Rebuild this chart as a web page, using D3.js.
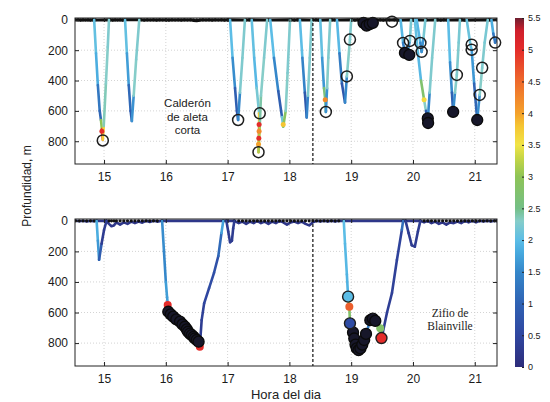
<!DOCTYPE html>
<html>
<head>
<meta charset="utf-8">
<script src="https://cdn.jsdelivr.net/npm/d3@7"></script>
<style>
body { margin: 0; background: #fff; }
text { font-family: "Liberation Sans", Arial, sans-serif; }
.axis path { display: none; }
.axis line { stroke: #222; }
.axis text { font-size: 12px; fill: #1a1a1a; }
.cbar text { font-size: 9px; }
.grid { stroke: #c8c8c8; stroke-width: 0.8; stroke-dasharray: 1,2; }
</style>
</head>
<body>
<script>
var hourTicks = [15, 16, 17, 18, 19, 20, 21];
var depthTicks = [0, 200, 400, 600, 800];
var speedTicks = [0, 0.5, 1, 1.5, 2, 2.5, 3, 3.5, 4, 4.5, 5, 5.5];
var speedStops = [0, 0.5, 1, 1.5, 1.8, 2, 2.3, 2.5, 3, 3.3, 3.5, 3.8, 4, 4.5, 5, 5.3, 5.5];
var speedColors = ["#2d2c7a", "#2f46a0", "#2f62b3", "#3587ca", "#47a9de", "#5cbde6", "#86cdc9",
                   "#74bf86", "#8ec456", "#c7d645", "#f1e446", "#f5c532", "#f4a12b", "#ee6a2c",
                   "#e42c2a", "#cf1f2c", "#6e1f30"];
var sunsetHour = 18.38;

// Calderón de aleta corta: dives as [hour, depth m, speed]
var calderonDives = [
  [[14.84,0,2.1],[14.87,220,2.0],[14.9,430,1.7],[14.93,600,0.9],[14.95,660,1.2],[14.965,720,4.8],[14.98,790,5.0],[14.995,700,2.4],[15.03,420,2.3],[15.06,180,2.3],[15.08,0,2.2]],
  [[15.34,0,2.1],[15.37,220,2.0],[15.4,430,1.4],[15.43,600,0.8],[15.45,667,0.9],[15.48,500,2.3],[15.52,260,2.3],[15.57,0,2.2]],
  [[17.04,0,2.1],[17.08,250,1.9],[17.12,450,1.2],[17.15,600,0.7],[17.17,660,0.8],[17.2,480,2.2],[17.24,250,2.3],[17.28,0,2.2]],
  [[17.39,0,2.1],[17.43,250,2.0],[17.47,450,1.9],[17.51,616,2.5],[17.51,700,5.0],[17.505,780,4.2],[17.5,872,3.8],[17.52,700,2.5],[17.54,500,2.3],[17.59,250,2.3],[17.64,0,2.2]],
  [[17.69,0,2.1],[17.75,250,1.9],[17.82,470,1.1],[17.88,640,0.8],[17.9,704,3.5],[17.94,600,2.3],[17.97,350,2.3],[18.01,0,2.2]],
  [[18.17,0,2.1],[18.21,250,1.9],[18.25,480,1.0],[18.28,643,0.7],[18.3,500,2.2],[18.33,250,2.3],[18.36,0,2.2]],
  [[18.5,0,2.1],[18.53,250,2.0],[18.56,450,1.3],[18.58,527,4.0],[18.59,607,0.9],[18.61,450,2.3],[18.63,250,2.3],[18.66,0,2.2]],
  [[18.77,0,2.1],[18.81,220,1.8],[18.85,420,0.9],[18.9,545,0.7],[18.93,373,2.3],[18.98,130,2.3],[19.0,0,2.2]],
  [[19.15,0,0.5],[19.2,20,0.3],[19.25,40,0.3],[19.3,30,0.3],[19.35,20,0.4],[19.4,0,0.5]],
  [[19.8,0,2.1],[19.84,152,1.8],[19.87,218,1.0],[19.9,231,1.0],[19.95,140,2.2],[19.97,0,2.2]],
  [[20.06,0,2.1],[20.12,152,1.8],[20.14,211,1.0],[20.17,120,2.2],[20.2,0,2.2]],
  [[20.03,0,2.1],[20.08,220,2.0],[20.13,400,1.9],[20.18,527,3.6],[20.21,600,1.0],[20.24,660,0.8],[20.27,480,2.2],[20.31,250,2.3],[20.36,0,2.2]],
  [[20.57,0,2.1],[20.6,280,1.9],[20.63,480,1.2],[20.65,607,0.8],[20.68,480,2.3],[20.71,363,2.3],[20.74,150,2.2],[20.76,0,2.2]],
  [[20.87,0,2.1],[20.93,164,2.1],[20.95,197,2.0],[20.99,420,1.3],[21.04,660,0.8],[21.08,495,2.3],[21.12,316,2.3],[21.16,150,2.2],[21.21,0,2.2]],
  [[21.27,0,2.1],[21.3,90,1.6],[21.33,150,1.0],[21.36,120,1.5]]
];
var calderonSurface = [
  [14.54,2],[14.58,0],[14.62,3],[14.66,0],[14.7,2],[14.74,0],[14.78,3],[14.82,0],[14.86,2],
  [15.1,0],[15.14,3],[15.18,0],[15.22,2],[15.26,0],[15.3,3],[15.34,0],
  [15.6,0],[15.65,3],[15.7,0],[15.75,2],[15.8,0],[15.85,3],[15.9,0],[15.95,2],[16.0,0],
  [16.05,3],[16.1,0],[16.15,2],[16.2,0],[16.25,3],[16.3,0],[16.35,2],[16.4,0],[16.45,4],
  [16.5,6],[16.55,3],[16.6,0],[16.65,2],[16.7,0],[16.75,3],[16.8,0],[16.85,2],[16.9,0],
  [16.95,3],[17.0,0],[17.3,2],[17.35,0],[17.66,2],[18.03,0],[18.08,3],[18.13,0],
  [18.38,2],[18.43,0],[18.47,3],[18.69,0],[18.73,2],[19.02,0],[19.06,3],[19.1,0],
  [19.42,2],[19.47,0],[19.52,3],[19.57,0],[19.62,2],[19.7,0],[19.75,3],[19.99,0],
  [20.22,2],[20.4,0],[20.45,3],[20.5,0],[20.54,2],[20.79,0],[20.83,3],[21.23,0],[21.26,2],[21.36,0]
];
var calderonMarks = [
  [14.965,735,5.0],[17.51,690,5.0],[17.51,735,4.2],[17.505,780,5.0],[17.5,820,4.0],
  [17.9,690,3.8],[18.58,527,4.2],[20.18,527,3.6]
];
var calderonBuzzOpen = [
  [14.98,795],[17.17,660],[17.52,616],[17.5,872],[18.59,607],[18.93,373],[18.98,130],
  [19.66,12],[19.84,152],[19.95,139],[20.12,152],[20.14,211],[20.71,363],[20.95,164],
  [20.95,197],[21.12,316],[21.08,495],[21.33,150]
];
var calderonBuzzFilled = [
  [19.2,20],[19.25,38],[19.3,28],[19.35,20],[19.87,218],[19.94,231],[20.24,650],
  [20.245,680],[20.65,607],[21.04,660]
];
var calderonBuzzColored = [];

// Zifio de Blainville
var zifioDives = [
  [[14.88,0,1.9],[14.9,130,1.8],[14.92,255,1.5],[14.96,150,0.3],[15.0,60,0.3],[15.04,0,0.3]],
  [[15.94,0,1.6],[15.97,200,1.5],[16.0,400,1.5],[16.02,500,1.9],[16.04,580,1.5],[16.1,620,0.3],[16.2,680,0.3],[16.3,730,0.3],[16.4,770,0.3],[16.5,800,0.3],[16.55,824,0.3],[16.58,650,0.3],[16.62,540,0.5],[16.7,440,0.5],[16.78,340,0.7],[16.85,230,0.7],[16.9,80,1.5],[16.93,0,2.0]],
  [[16.98,0,0.3],[17.01,70,0.3],[17.04,140,0.3],[17.07,130,0.3],[17.09,50,0.3],[17.11,0,0.3]],
  [[18.88,0,2.0],[18.9,150,2.0],[18.93,350,1.9],[18.95,496,1.9],[18.97,562,4.8],[18.98,671,0.8],[19.02,740,0.3],[19.06,810,0.3],[19.1,845,0.3],[19.15,830,0.3],[19.2,790,0.4],[19.25,730,1.5],[19.3,660,1.2],[19.37,640,0.5],[19.44,670,0.5],[19.47,703,2.8],[19.49,767,4.5],[19.51,734,0.3],[19.58,600,0.3],[19.66,472,0.4],[19.74,256,0.4],[19.82,59,0.5],[19.84,0,1.8]],
  [[19.88,0,0.3],[19.93,80,0.3],[19.98,160,0.3],[20.03,169,0.3],[20.08,70,0.3],[20.12,0,0.3]]
];
var zifioSurface = [
  [14.54,0],[14.6,3],[14.66,0],[14.72,4],[14.78,0],[14.84,2],[14.88,0],
  [15.04,0],[15.08,20],[15.12,35],[15.16,30],[15.2,10],[15.26,25],[15.32,10],[15.38,20],
  [15.44,5],[15.5,15],[15.56,5],[15.62,12],[15.68,0],[15.74,8],[15.8,0],[15.86,5],[15.94,0],
  [16.93,0],[16.98,0],[17.11,0],[17.18,15],[17.24,5],[17.3,20],[17.36,5],[17.42,15],
  [17.48,0],[17.54,15],[17.6,5],[17.66,20],[17.72,5],[17.78,15],[17.84,0],[17.9,10],
  [17.96,25],[18.02,10],[18.08,5],[18.14,15],[18.2,5],[18.26,20],[18.32,30],[18.38,10],
  [18.44,0],[18.5,5],[18.56,0],[18.62,5],[18.68,0],[18.74,5],[18.8,0],[18.88,0],
  [19.84,0],[19.88,0],[20.12,0],[20.18,10],[20.24,0],[20.3,15],[20.36,5],[20.42,20],
  [20.48,10],[20.54,25],[20.6,10],[20.66,15],[20.72,5],[20.78,15],[20.84,0],[20.9,10],
  [20.96,0],[21.02,10],[21.08,0],[21.14,5],[21.2,0],[21.26,5],[21.32,0],[21.36,0]
];
var zifioMarks = [[16.03,551,5.0],[16.55,824,5.0],[18.97,562,4.6],[19.47,703,2.8]];
var zifioBuzzOpen = [];
var zifioBuzzFilled = [
  [16.04,595],[16.08,612],[16.12,627],[16.17,645],[16.23,660],[16.27,678],[16.31,693],
  [16.34,710],[16.36,726],[16.39,738],[16.42,748],[16.45,760],[16.47,770],[16.5,780],[16.53,791],
  [19.03,730],[19.05,770],[19.07,810],[19.09,835],[19.12,846],[19.15,835],[19.18,810],
  [19.21,780],[19.24,740],[19.31,650],[19.35,640],[19.39,655]
];
var zifioBuzzColored = [[18.95,496,2.0],[18.98,671,0.6],[19.49,767,5.0]];

var svg = d3.select("body").append("svg")
    .attr("width", 550)
    .attr("height", 402);
var defs = svg.append("defs");

var x = d3.scaleLinear().domain([14.53, 21.36]).range([75, 497]);
var speedColor = d3.scaleLinear().domain(speedStops).range(speedColors);

function drawPanel(p) {
  var y = d3.scaleLinear().domain([-12, 950]).range([p.top, p.bottom]);
  var g = svg.append("g");
  var px = function(d) { return x(d[0]); },
      py = function(d) { return y(d[1]); };

  defs.append("clipPath").attr("id", "clip-" + p.name)
    .append("rect")
      .attr("x", 75).attr("y", p.top)
      .attr("width", 422).attr("height", p.bottom - p.top);

  // grid
  g.selectAll(".hgrid").data(depthTicks.slice(1))
    .enter().append("line").attr("class", "grid")
      .attr("x1", 75).attr("x2", 497)
      .attr("y1", y).attr("y2", y);
  g.selectAll(".vgrid").data(hourTicks)
    .enter().append("line").attr("class", "grid")
      .attr("x1", x).attr("x2", x)
      .attr("y1", p.top).attr("y2", p.bottom);

  var plot = g.append("g").attr("clip-path", "url(#clip-" + p.name + ")");

  // surface intervals
  plot.append("path")
      .datum(p.surface)
      .attr("d", d3.line().x(px).y(py))
      .attr("fill", "none")
      .attr("stroke", p.surfaceColor)
      .attr("stroke-width", p.surfaceWidth)
      .attr("stroke-linejoin", "round");
  plot.selectAll(".sdot").data(p.surface)
    .enter().append("circle")
      .attr("cx", px).attr("cy", function(d) { return y(0); })
      .attr("r", 1.6)
      .attr("fill", "#111");

  // dive tracks coloured by speed
  p.dives.forEach(function(dive) {
    plot.selectAll(null).data(d3.pairs(dive))
      .enter().append("line")
        .attr("x1", function(d) { return x(d[0][0]); })
        .attr("y1", function(d) { return y(d[0][1]); })
        .attr("x2", function(d) { return x(d[1][0]); })
        .attr("y2", function(d) { return y(d[1][1]); })
        .attr("stroke", function(d) { return speedColor((d[0][2] + d[1][2]) / 2); })
        .attr("stroke-width", 2.6)
        .attr("stroke-linecap", "round");
  });

  plot.selectAll(".mark").data(p.marks)
    .enter().append("circle")
      .attr("cx", px).attr("cy", py)
      .attr("r", p.markR)
      .attr("fill", function(d) { return speedColor(d[2]); });

  // sunset
  g.append("line")
      .attr("x1", x(sunsetHour)).attr("x2", x(sunsetHour))
      .attr("y1", p.top).attr("y2", p.bottom)
      .attr("stroke", "#111")
      .attr("stroke-width", 1.2)
      .attr("stroke-dasharray", "3,2");

  // buzzes
  g.selectAll(".bopen").data(p.buzzOpen)
    .enter().append("circle")
      .attr("cx", px).attr("cy", py).attr("r", 5.5)
      .attr("fill", "none").attr("stroke", "#1e1e1e").attr("stroke-width", 1.5);
  g.selectAll(".bfill").data(p.buzzFilled)
    .enter().append("circle")
      .attr("cx", px).attr("cy", py).attr("r", 5.5)
      .attr("fill", "#17172a").attr("stroke", "#0a0a0a").attr("stroke-width", 1.3);
  g.selectAll(".bcol").data(p.buzzColored)
    .enter().append("circle")
      .attr("cx", px).attr("cy", py).attr("r", 5.5)
      .attr("fill", function(d) { return speedColor(d[2]); })
      .attr("stroke", "#1e1e1e").attr("stroke-width", 1.4);

  // frame and axes
  g.append("rect")
      .attr("x", 75).attr("y", p.top)
      .attr("width", 422).attr("height", p.bottom - p.top)
      .attr("fill", "none").attr("stroke", "#222").attr("stroke-width", 1);

  g.append("g").attr("class", "axis")
      .attr("transform", "translate(75,0)")
      .call(d3.axisLeft(y).tickValues(depthTicks).tickSize(-4).tickPadding(7));
  g.append("g").attr("class", "axis")
      .attr("transform", "translate(497,0)")
      .call(d3.axisRight(y).tickValues(depthTicks).tickSize(-4).tickFormat(""));
  g.append("g").attr("class", "axis")
      .attr("transform", "translate(0," + p.bottom + ")")
      .call(d3.axisBottom(x).tickValues(hourTicks).tickSize(-4).tickPadding(8).tickFormat(d3.format("d")));
  g.append("g").attr("class", "axis")
      .attr("transform", "translate(0," + p.top + ")")
      .call(d3.axisTop(x).tickValues(hourTicks).tickSize(-4).tickFormat(""));

  var label = g.append("text")
      .attr("text-anchor", "middle")
      .style("font-family", p.labelFont)
      .style("font-size", p.labelSize)
      .attr("fill", "#222");
  p.label.forEach(function(s, i) {
    label.append("tspan")
        .attr("x", x(p.labelAt[0]))
        .attr("y", y(p.labelAt[1]) + i * p.labelStep)
        .attr("dy", ".35em")
        .text(s);
  });
}

drawPanel({
  name: "calderon", top: 18, bottom: 164,
  dives: calderonDives, surface: calderonSurface, marks: calderonMarks,
  buzzOpen: calderonBuzzOpen, buzzFilled: calderonBuzzFilled, buzzColored: calderonBuzzColored,
  surfaceColor: "#111", surfaceWidth: 3, markR: 2.5,
  label: ["Calderón", "de aleta", "corta"], labelAt: [16.35, 550], labelStep: 13.5,
  labelFont: "Liberation Sans, Arial, sans-serif", labelSize: "11.5px"
});

drawPanel({
  name: "zifio", top: 219, bottom: 366,
  dives: zifioDives, surface: zifioSurface, marks: zifioMarks,
  buzzOpen: zifioBuzzOpen, buzzFilled: zifioBuzzFilled, buzzColored: zifioBuzzColored,
  surfaceColor: speedColor(0.2), surfaceWidth: 2.6, markR: 4,
  label: ["Zifio de", "Blainville"], labelAt: [20.6, 600], labelStep: 13.5,
  labelFont: "Liberation Serif, Times New Roman, serif", labelSize: "11.5px"
});

// colour bar
var c = d3.scaleLinear().domain([0, 5.5]).range([367, 18]);
var grad = defs.append("linearGradient")
    .attr("id", "cbar")
    .attr("x1", 0).attr("y1", 1).attr("x2", 0).attr("y2", 0);
grad.selectAll("stop").data(speedStops)
  .enter().append("stop")
    .attr("offset", function(d) { return d / 5.5; })
    .attr("stop-color", function(d, i) { return speedColors[i]; });

svg.append("rect")
    .attr("x", 515).attr("y", c(5.5))
    .attr("width", 9).attr("height", c(0) - c(5.5))
    .attr("fill", "url(#cbar)");

svg.append("g").attr("class", "axis cbar")
    .attr("transform", "translate(524,0)")
    .call(d3.axisRight(c).tickValues(speedTicks).tickSize(-2).tickPadding(4).tickFormat(d3.format("~g")));

// axis titles
svg.append("text")
    .attr("transform", "translate(27,186) rotate(-90)")
    .attr("text-anchor", "middle")
    .attr("dy", ".35em")
    .style("font-size", "12px")
    .attr("fill", "#222")
    .text("Profundidad, m");

svg.append("text")
    .attr("x", 286)
    .attr("y", 399)
    .attr("text-anchor", "middle")
    .style("font-size", "13px")
    .attr("fill", "#222")
    .text("Hora del dia");
</script>
</body>
</html>
